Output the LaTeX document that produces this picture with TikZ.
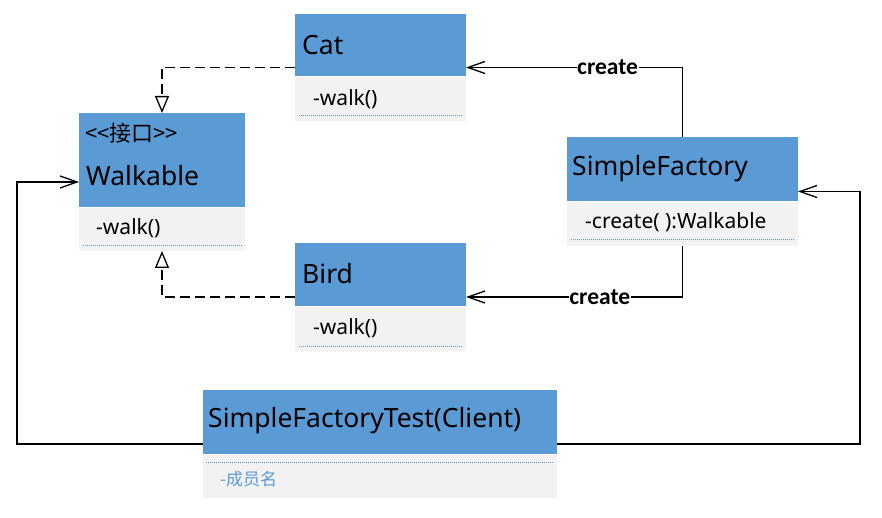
\documentclass[tikz,border=0pt]{standalone}
\usepackage{fontspec}
\setmainfont{Noto Sans}
\newfontfamily\cjk{Noto Sans CJK SC}
\newfontfamily\carl{Carlito}
\usetikzlibrary{arrows.meta}
\definecolor{hblue}{HTML}{5B9BD5}
\definecolor{bgray}{HTML}{F2F2F2}
\begin{document}
\begin{tikzpicture}[x=1pt,y=-1pt,
  outerbox/.style={draw=none, fill=white, anchor=north west, inner sep=0, outer sep=0},
  hdr/.style={fill=hblue, draw=none, anchor=north west, inner sep=0, outer sep=0},
  bdy/.style={fill=bgray, draw=none, anchor=north west, inner sep=0, outer sep=0},
  cname/.style={anchor=west, inner sep=0, font=\fontsize{26.5}{30}\selectfont},
  meth/.style={anchor=west, inner sep=0, font=\fontsize{21}{24}\selectfont},
  dotl/.style={draw=hblue, line width=1pt, dash pattern=on 1pt off 1pt},
  dsh/.style={draw=black, line width=1.4pt, dash pattern=on 10pt off 5pt, -{Triangle[open, length=17pt, width=14pt, line width=1.3pt]}},
  assoc/.style={draw=black, line width=1.4pt, -{Straight Barb[length=17pt, width=12pt, line width=1.3pt]}},
  lbl/.style={fill=white, inner sep=0.5pt, font=\carl\bfseries\fontsize{23.5}{26}\selectfont}
]
\useasboundingbox (0,0) rectangle (882,518);
\fill[white] (0,0) rectangle (882,518);

% outer boxes
\node[outerbox, minimum width=171pt, minimum height=107pt] (cat) at (295,14) {};
\node[outerbox, minimum width=166pt, minimum height=138pt] (walk) at (79,113) {};
\node[outerbox, minimum width=171pt, minimum height=108pt] (bird) at (295,243) {};
\node[outerbox, minimum width=231pt, minimum height=109pt] (sf) at (567,137) {};
\node[outerbox, minimum width=354pt, minimum height=108pt] (client) at (203,390) {};

% compartments
\node[hdr, minimum width=171pt, minimum height=62pt] (cath) at (295,14) {};
\node[bdy, minimum width=171pt, minimum height=44pt] (catb) at (295,77) {};
\node[hdr, minimum width=166pt, minimum height=94pt] (walkh) at (79,113) {};
\node[bdy, minimum width=166pt, minimum height=43pt] (walkb) at (79,208) {};
\node[hdr, minimum width=171pt, minimum height=63pt] (birdh) at (295,243) {};
\node[bdy, minimum width=171pt, minimum height=44pt] (birdb) at (295,307) {};
\node[hdr, minimum width=231pt, minimum height=64pt] (sfh) at (567,137) {};
\node[bdy, minimum width=231pt, minimum height=44pt] (sfb) at (567,202) {};
\node[hdr, minimum width=354pt, minimum height=64pt] (clienth) at (203,390) {};
\node[bdy, minimum width=354pt, minimum height=43pt] (clientb) at (203,455) {};

% texts
\node[cname] (catn) at (302,45) {Cat};
\node[meth] (catm) at (313,99) {-walk()};
\node[anchor=west, inner sep=0, font=\cjk\fontsize{22}{25}\selectfont] (walks) at (85,133) {<<接口>>};
\node[cname] (walkn) at (86,176) {Walkable};
\node[meth] (walkm) at (96,228) {-walk()};
\node[cname] (birdn) at (302,274) {Bird};
\node[meth] (birdm) at (313,328) {-walk()};
\node[cname] (sfn) at (572,169) {SimpleFactory};
\node[meth] (sfm) at (585,222) {-create( ):Walkable};
\node[cname] (clientn) at (208,421) {SimpleFactoryTest(Client)};
\node[anchor=west, inner sep=0, text=hblue, font=\cjk\fontsize{17}{20}\selectfont] (clientm) at (220,479) {-成员名};

% dotted separators
\draw[dotl] (299,116) -- (463,116);
\draw[dotl] (83,246) -- (242,246);
\draw[dotl] (299,346) -- (463,346);
\draw[dotl] (571,240) -- (794,240);
\draw[dotl] (206,462) -- (554,462);

% connectors
\draw[dsh] (cat.west) -| (walk.north);
\draw[dsh] (bird.west) -| (walk.south);
\draw[assoc] (sf.north) |- node[lbl, pos=0.673] (lblcat) {create} (cat.east);
\draw[assoc] (sf.south) |- node[lbl, pos=0.691] (lblbird) {create} (bird.east);
\draw[assoc] (client.west) -- ++(-186,0) |- (walk.west);
\draw[assoc] (client.east) -- ++(303,0) |- (sf.east);
\end{tikzpicture}
\end{document}
